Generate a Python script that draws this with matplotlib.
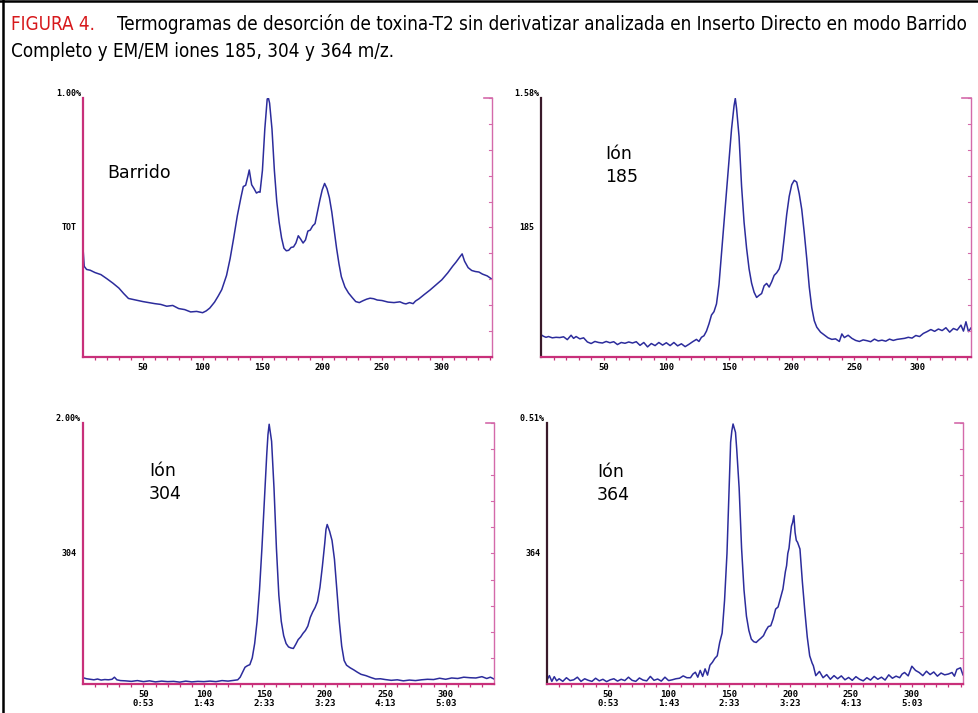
import matplotlib
matplotlib.use("Agg")
import matplotlib.pyplot as plt

# Barrido (TOT)
x_tot = [0, 1, 3, 6, 10, 15, 20, 25, 30, 34, 38, 44, 50, 55, 60, 65, 70, 75, 80, 85, 90, 95, 100, 103,
         106, 110, 113, 116, 120, 123, 126, 129, 132, 134, 136, 138, 139, 141, 143, 145, 147, 148, 150,
         152, 154, 155, 156, 158, 160, 162, 164, 166, 168, 170, 172, 174, 176, 178, 180, 182, 184, 186,
         188, 190, 192, 194, 196, 198, 200, 202, 204, 206, 208, 210, 212, 214, 216, 219, 222, 225, 228,
         231, 234, 237, 240, 243, 246, 250, 255, 260, 265, 268, 270, 273, 276, 278, 281, 285, 290, 295,
         300, 305, 309, 312, 315, 317, 319, 322, 325, 328, 331, 334, 338, 342]
y_tot = [42, 35, 33.8, 33.5, 32.6, 31.8, 30.2, 28.5, 26.6, 24.5, 22.6, 22.0, 21.4, 21.0, 20.6, 20.3, 19.6,
         19.9, 18.7, 18.3, 17.4, 17.6, 17.1, 17.8, 18.9, 21.2, 23.5, 26.0, 31.5, 38.0, 46.0, 54.5, 61.5,
         65.8, 66.3, 70.1, 72.2, 66.5, 65.0, 63.3, 63.8, 63.6, 72.0, 88.0, 99.6, 100.0, 98.0, 88.0, 72.0,
         60.0, 52.0, 46.0, 42.0, 41.0, 41.2, 42.3, 42.5, 44.0, 46.8, 45.5, 44.0, 45.2, 48.6, 49.0, 50.6,
         51.5, 56.0, 60.5, 64.5, 67.0, 65.0, 61.5, 56.0, 49.0, 42.0, 36.0, 31.0, 27.0, 24.7, 23.0, 21.4,
         21.0, 21.7, 22.3, 22.7, 22.5, 22.0, 21.8, 21.2, 21.0, 21.3, 20.7, 20.5, 21.0, 20.6, 21.6, 22.5,
         24.0, 25.8, 27.8, 29.8, 32.5, 35.0, 36.7, 38.6, 39.8, 37.0, 34.5, 33.4, 33.0, 32.8, 32.0, 31.3,
         30.0]

# Ion 185
x_185 = [0, 2, 4, 6, 9, 12, 15, 18, 21, 24, 26, 28, 31, 34, 37, 40, 43, 46, 49, 52, 55, 58, 61, 64, 67,
         70, 73, 76, 79, 82, 85, 88, 91, 94, 97, 100, 103, 106, 109, 112, 115, 118, 121, 124, 126, 128,
         130, 132, 134, 136, 138, 140, 142, 144, 146, 148, 150, 152, 154, 155, 156, 158, 160, 162, 164,
         166, 168, 170, 172, 174, 176, 178, 180, 182, 184, 186, 188, 190, 192, 194, 196, 198, 200, 202,
         204, 206, 208, 210, 212, 214, 216, 218, 220, 223, 226, 229, 232, 235, 238, 240, 242, 245, 248,
         251, 254, 257, 260, 263, 266, 269, 272, 275, 278, 281, 284, 287, 290, 293, 296, 299, 302, 305,
         308, 311, 314, 317, 320, 323, 326, 329, 332, 335, 337, 339, 341, 343]
y_185 = [8.6, 8.0, 7.6, 7.9, 7.4, 7.6, 7.5, 7.8, 6.7, 8.4, 7.2, 7.9, 7.0, 7.4, 5.8, 5.2, 6.0, 5.6, 5.4,
         6.0, 5.5, 5.9, 4.8, 5.6, 5.3, 5.8, 5.4, 5.9, 4.5, 5.6, 3.9, 5.2, 4.4, 5.6, 4.6, 5.5, 4.4, 5.6,
         4.3, 5.1, 4.0, 4.9, 5.9, 6.8, 6.0, 7.6, 8.2, 10.0, 12.8, 16.2, 17.5, 20.5, 28.0, 40.0, 52.0, 64.0,
         76.0, 88.0, 97.0, 99.8, 96.0, 85.0, 66.0, 52.0, 42.0, 34.0, 28.5, 25.0, 23.0, 23.8, 24.5, 27.5,
         28.4, 27.0, 29.0, 31.5, 32.5, 34.0, 37.5, 46.0, 55.0, 62.0, 66.5, 68.2, 67.5, 63.0, 57.0, 48.0,
         38.0, 27.0, 19.0, 14.0, 11.5, 9.6, 8.5, 7.4, 6.8, 7.0, 6.0, 8.9, 7.5, 8.4, 7.2, 6.4, 6.0, 6.6,
         6.3, 5.9, 6.9, 6.2, 6.5, 6.1, 6.9, 6.4, 6.8, 7.0, 7.2, 7.6, 7.3, 8.3, 7.9, 9.1, 9.8, 10.6, 9.9,
         10.8, 10.2, 11.3, 9.6, 11.0, 10.4, 12.3, 10.0, 13.6, 9.8, 11.2]

# Ion 304
x_304 = [0, 3, 6, 9, 12, 15, 18, 21, 24, 26, 28, 31, 35, 40, 45, 50, 55, 60, 65, 70, 75, 80, 85, 90, 95,
         100, 105, 110, 115, 120, 125, 128, 130, 132, 134, 136, 138, 140, 142, 144, 146, 148, 150, 152,
         153, 154, 156, 158, 160, 162, 164, 166, 168, 170, 172, 174, 176, 178, 180, 182, 184, 186, 188,
         190, 192, 194, 196, 198, 200, 201, 202, 204, 206, 208, 210, 212, 214, 216, 218, 221, 224, 227,
         230, 234, 238, 242, 246, 250, 255, 260, 265, 270, 275, 280, 285, 290, 295, 300, 305, 310, 315,
         320, 325, 330, 334, 337, 340]
y_304 = [2.4, 2.0, 1.8, 1.6, 1.9, 1.5, 1.7, 1.6, 1.8, 2.6, 1.6, 1.3, 1.2, 1.0, 1.3, 0.9, 1.2, 0.8, 1.1,
         0.9, 1.0, 0.7, 1.1, 0.8, 1.0, 0.9, 1.1, 0.9, 1.3, 1.1, 1.4, 1.6, 2.6, 4.5, 6.4, 7.0, 7.4, 10.0,
         15.5, 24.0, 36.0, 52.0, 70.0, 88.0, 95.5, 99.5, 93.0, 75.0, 52.0, 34.0, 24.0, 18.5, 15.5, 14.2,
         13.8, 13.6, 15.2, 17.0, 18.0, 19.4, 20.5, 22.2, 25.5, 27.6, 29.3, 31.6, 37.0, 45.0, 54.0, 59.2,
         61.1, 58.5, 55.0, 47.8, 36.0, 24.0, 14.5, 9.0, 7.2, 6.2, 5.4, 4.5, 3.7, 3.2, 2.5, 1.9, 2.0, 1.7,
         1.4, 1.6, 1.2, 1.5, 1.3, 1.6, 1.8, 1.7, 2.2, 1.8, 2.3, 2.1, 2.6, 2.4, 2.3, 2.8, 2.1, 2.6, 1.9]

# Ion 364
x_364 = [0, 2, 4, 6, 8, 10, 13, 16, 19, 22, 25, 28, 31, 34, 37, 40, 43, 46, 49, 52, 55, 58, 61, 64, 67,
         70, 73, 76, 79, 82, 85, 88, 91, 94, 97, 100, 103, 106, 109, 112, 115, 118, 120, 122, 124, 126,
         128, 130, 132, 134, 136, 138, 140, 142, 144, 146, 148, 150, 151, 152, 153, 154, 155, 156, 158,
         160, 162, 164, 166, 168, 170, 172, 174, 176, 178, 180, 182, 184, 186, 188, 190, 192, 194, 196,
         197, 198, 199, 200, 201, 202, 203, 204, 205, 206, 208, 210, 212, 214, 216, 218, 219, 221, 224,
         227, 230, 233, 236, 239, 242, 245, 248, 251, 254, 257, 260, 263, 266, 269, 272, 275, 278, 281,
         284, 287, 290, 292, 294, 297, 300, 303, 306, 309, 312, 315, 318, 321, 324, 327, 330, 333, 335,
         337, 340, 342]
y_364 = [1.5, 3.2, 1.0, 2.8, 1.2, 2.0, 1.0, 2.4, 1.3, 1.6, 2.6, 1.0, 2.0, 1.4, 1.0, 2.2, 1.2, 1.8, 0.9,
         1.6, 2.0, 1.1, 1.8, 1.3, 2.6, 1.4, 1.0, 2.3, 1.5, 1.2, 2.9, 1.4, 1.9, 1.1, 2.6, 1.3, 1.6, 2.0,
         2.2, 3.1, 2.4, 2.4, 3.8, 4.5, 2.6, 5.2,
         2.9, 5.8, 3.4, 7.2, 8.3, 9.8, 10.8, 15.9, 19.5, 32.0, 50.0, 78.0, 92.6, 97.0, 99.6, 98.0, 96.4,
         90.0, 75.0, 52.0, 36.0, 26.0, 20.5, 17.2, 16.2, 15.9, 16.8, 17.6, 18.5, 20.5, 22.0, 22.3, 25.0,
         28.7, 29.5, 33.0, 36.4, 43.0, 45.3, 50.0, 52.0, 56.5, 60.5, 61.9, 64.5, 58.0, 55.0, 54.3, 51.7,
         39.0, 28.0, 18.0, 10.8, 8.0, 7.0, 3.2, 4.8, 2.4, 3.6, 1.8,
         3.2, 2.0, 3.1, 1.6, 2.5, 1.4, 2.8, 1.8, 1.2, 2.4, 1.5, 2.9, 1.8, 2.6, 1.5, 3.5, 2.2, 3.0, 2.4,
         3.8, 4.4, 3.1, 6.8, 5.2, 4.4, 3.2, 4.9, 3.6, 4.6, 3.0, 4.2, 3.5, 3.8, 4.4, 3.0, 5.6, 6.2, 3.5]

panels = [
    (x_tot, y_tot, "1.00%", "TOT", "Barrido", 342, "#c8307a"),
    (x_185, y_185, "1.58%", "185", "Ión\n185", 343, "#3a1a2a"),
    (x_304, y_304, "2.00%", "304", "Ión\n304", 340, "#c8307a"),
    (x_364, y_364, "0.51%", "364", "Ión\n364", 342, "#3a1a2a"),
]
boxes = [
    [0.0848, 0.4993, 0.4178, 0.3633],
    [0.5526, 0.4993, 0.4392, 0.3633],
    [0.0848, 0.0407, 0.4198, 0.3661],
    [0.5587, 0.0407, 0.4249, 0.3661],
]
label_pos = [(0.06, 0.675), (0.15, 0.66), (0.16, 0.695), (0.12, 0.69)]
pink = "#c8307a"
rpink = "#d46aaa"
line_col = "#2c2c9c"

fig = plt.figure(figsize=(9.79, 7.13), dpi=100)

for (x, y, top_lab, mid_lab, name, xmax, lcol), box, lp in zip(panels, boxes, label_pos):
    ax = fig.add_axes(box)
    ax.plot(x, y, color=line_col, lw=1.1)
    ax.set_xlim(0, xmax)
    ax.set_ylim(0, 100)
    ax.spines["top"].set_visible(False)
    ax.spines["left"].set_color(lcol)
    ax.spines["left"].set_linewidth(1.6)
    ax.spines["bottom"].set_color(pink)
    ax.spines["bottom"].set_linewidth(1.6)
    ax.spines["right"].set_color(rpink)
    ax.spines["right"].set_linewidth(1.0)
    # orange stub on the lower left axis
    ax.plot([0.3, 0.3], [0, y[0]], color="#f5b21c", lw=1.2, clip_on=False)
    ax.set_yticks([])
    # right side minor ticks
    for v in range(0, 101, 10):
        ax.plot([xmax - xmax * 0.008, xmax], [v, v], color=rpink, lw=0.8, clip_on=False)
    ax.plot([xmax - xmax * 0.02, xmax], [100, 100], color=rpink, lw=1.2, clip_on=False)
    ax.set_xticks(range(50, 301, 50))
    ax.set_xticks(range(10, int(xmax), 10), minor=True)
    ax.tick_params(axis="x", which="both", direction="out", color=pink, length=2.5, width=0.9, pad=2)
    if box[1] < 0.2:
        secs = [53, 103, 153, 203, 253, 303]
        ax.set_xticklabels([f"{v}\n{s // 60}:{s % 60:02d}" for v, s in zip(range(50, 301, 50), secs)],
                           fontsize=6.5, fontweight="bold", family="DejaVu Sans Mono", linespacing=0.9)
    else:
        ax.set_xticklabels([str(v) for v in range(50, 301, 50)],
                           fontsize=6.5, fontweight="bold", family="DejaVu Sans Mono")
    ax.text(-0.005, 1.0, top_lab, transform=ax.transAxes, ha="right", va="bottom",
            fontsize=6, fontweight="bold", family="DejaVu Sans Mono")
    ax.text(-0.015, 0.5, mid_lab, transform=ax.transAxes, ha="right", va="center",
            fontsize=6, fontweight="bold", family="DejaVu Sans Mono")
    ax.text(lp[0], lp[1], name, transform=ax.transAxes, ha="left", va="bottom",
            fontsize=12.5, family="DejaVu Sans", linespacing=1.35)

# caption
fig.text(0.011, 0.958, "FIGURA 4.", color="#d7191c", fontsize=13.5, family="DejaVu Sans",
         stretch="condensed")
fig.text(0.1195, 0.958,
         "Termogramas de desorción de toxina-T2 sin derivatizar analizada en Inserto Directo en modo Barrido",
         color="black", fontsize=13.5, family="DejaVu Sans", stretch="condensed")
fig.text(0.011, 0.920, "Completo y EM/EM iones 185, 304 y 364 m/z.", color="black", fontsize=13.5,
         family="DejaVu Sans", stretch="condensed")

# outer frame lines (left and top)
fig.add_artist(plt.Line2D([0.0035, 0.0035], [0, 1], color="black", lw=1.8))
fig.add_artist(plt.Line2D([0, 1], [0.998, 0.998], color="black", lw=1.8))

fig.savefig("out.png", dpi=100)
